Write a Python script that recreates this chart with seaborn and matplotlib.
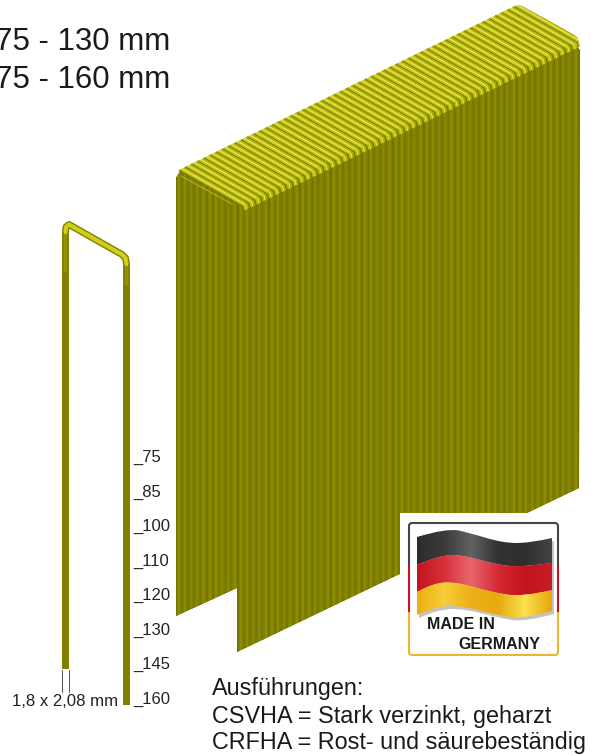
# Klammer-Magazin, Massblatt nachgebaut mit seaborn
import numpy as np
import pandas as pd
import matplotlib
matplotlib.use("Agg")
import matplotlib.pyplot as plt
from matplotlib.patches import FancyBboxPatch, PathPatch, Polygon, Rectangle
from matplotlib.path import Path
from matplotlib.transforms import Affine2D
import seaborn as sns

# Texte und Werte
range_labels = ["75 - 130 mm", "75 - 160 mm"]
leg_lengths = ["75", "85", "100", "110", "120", "130", "145", "160"]
wire_label = "1,8 x 2,08 mm"
variant_labels = ["Ausführungen:", "CSVHA = Stark verzinkt, geharzt", "CRFHA = Rost- und säurebeständig"]
badge_labels = ["MADE IN", "GERMANY"]

# Umrisse in Bildpunkten
block_outline = [(176, 178), (180, 171), (240, 205), (573, 43), (580, 50), (579, 488),
                 (237, 652), (237, 588), (176, 616)]
top_outline = [(176, 180), (177, 172), (182, 167), (514, 6), (519, 5), (524, 7), (572, 33),
               (578, 38), (580, 46), (580, 60), (240, 225), (176, 190)]
crown_start = (179, 170)
crown_end = (239, 204)
stack_step = (6.2, -3.03)
n_staples = 55

single_staple = [(65.5, 669), (65.5, 232), (66, 227), (69, 224.5), (122, 254.5), (125.5, 258), (126.5, 264), (126.5, 705)]
single_crown = [(65.5, 232), (66, 227), (69, 224.5), (122, 254.5), (125.5, 258), (126.5, 264)]
leg_glow_left = [(65, 232), (65, 272)]
leg_glow_right = [(126, 264), (126, 285)]

flag_top = [(417, 537), (447, 528), (470, 533), (503, 543), (530, 543), (552, 538)]
flag_black_red = [(417, 565), (440, 555), (463, 555), (497, 565), (523, 567), (552, 563)]
flag_red_gold = [(417, 592), (433, 583), (457, 582), (490, 592), (523, 597), (552, 590)]
flag_bottom = [(417, 615), (437, 606), (463, 606), (497, 615), (523, 619), (552, 611)]

top_shades = ["#7c7c00", "#bcbc00", "#e2e238", "#b0b000"]
leg_shades = ["#747400", "#828200", "#8d8d00", "#7d7d00"]
black_grad = ["#2c2c2c", "#3a3a3a", "#626262", "#333333", "#2e2e2e", "#444444"]
red_grad = ["#c2141c", "#d8303a", "#e9656c", "#d42a34", "#c2141c", "#c91c24"]
gold_grad = ["#efae10", "#f7cd38", "#eeb018", "#e8a810", "#fbe24e", "#e9a50c"]

sns.set_theme(style="white")
plt.rcParams["font.family"] = ["Liberation Sans", "DejaVu Sans"]

fig = plt.figure(figsize=(5.91, 7.55), dpi=100)
ax = fig.add_axes([0, 0, 1, 1])


def smooth_path(points, back=None):
    # quadratische Kurve durch die Mittelpunkte, optional mit Rueckweg
    pts = list(points)
    verts = [pts[0]]
    codes = [Path.MOVETO]
    for a, b in zip(pts[1:-1], pts[2:]):
        verts += [a, ((a[0] + b[0]) / 2, (a[1] + b[1]) / 2)]
        codes += [Path.CURVE3, Path.CURVE3]
    verts[-1] = pts[-1]
    if back is not None:
        rev = list(back)[::-1]
        verts.append(rev[0])
        codes.append(Path.LINETO)
        for a, b in zip(rev[1:-1], rev[2:]):
            verts += [a, ((a[0] + b[0]) / 2, (a[1] + b[1]) / 2)]
            codes += [Path.CURVE3, Path.CURVE3]
        verts[-1] = rev[-1]
        verts.append(pts[0])
        codes.append(Path.CLOSEPOLY)
    return Path(verts, codes)


# Beine des Magazins: Balken, auf den Umriss beschnitten
ax.add_patch(Polygon(block_outline, closed=True, facecolor="#808000", edgecolor="none", zorder=0.5))
n_bars = int((580 - 176) / stack_step[0] * len(leg_shades)) + 2
bar_x = 176 + np.arange(n_bars) * stack_step[0] / len(leg_shades)
legs = pd.DataFrame({"x": bar_x, "h": 755.0, "shade": [leg_shades[i % 4] for i in range(n_bars)]})
sns.barplot(data=legs, x="x", y="h", hue="shade", palette=dict(zip(leg_shades, leg_shades)),
            native_scale=True, dodge=False, width=1.1, saturation=1, errorbar=None,
            legend=False, linewidth=0, ax=ax)
block_clip = Polygon(block_outline, closed=True, transform=ax.transData, facecolor="none", edgecolor="none")
for bar in ax.patches:
    if isinstance(bar, Rectangle):
        bar.set_clip_path(block_clip)

# Ruecken des Magazins: je Klammer vier Farbstreifen
rows = []
for i in range(n_staples):
    for j, shade in enumerate(top_shades):
        ox = (i + j / 4) * stack_step[0]
        oy = (i + j / 4) * stack_step[1]
        x0, y0 = crown_start
        x1, y1 = crown_end
        path_pts = [(x0, y0), (x1, y1), (x1 + 3.5, y1 + 2.5), (x1 + 4.5, y1 + 7)]
        for k, (px, py) in enumerate(path_pts):
            rows.append({"x": px + ox, "y": py + oy, "unit": i * 4 + j, "order": k, "shade": shade})
top = pd.DataFrame(rows)
n_before = len(ax.lines)
sns.lineplot(data=top, x="x", y="y", hue="shade", units="unit", estimator=None, sort=False,
             palette=dict(zip(top_shades, top_shades)), linewidth=1.15, legend=False,
             solid_capstyle="butt", ax=ax)
top_clip = Polygon(top_outline, closed=True, transform=ax.transData, facecolor="none", edgecolor="none")
for line in ax.lines[n_before:]:
    line.set_clip_path(top_clip)

# Kante vorne links
crease = pd.DataFrame({"x": [181, 232], "y": [176, 204]})
sns.lineplot(data=crease, x="x", y="y", color="#b4b430", linewidth=0.7, estimator=None, sort=False, ax=ax)

# Einzelne Klammer
staple = pd.DataFrame(single_staple, columns=["x", "y"])
sns.lineplot(data=staple, x="x", y="y", color="#808000", linewidth=5, estimator=None, sort=False,
             solid_capstyle="butt", solid_joinstyle="round", ax=ax)
for glow in (leg_glow_left, leg_glow_right):
    g = pd.DataFrame(glow, columns=["x", "y"])
    sns.lineplot(data=g, x="x", y="y", color="#929200", linewidth=2.4, estimator=None, sort=False,
                 solid_capstyle="butt", ax=ax)
crown = pd.DataFrame(single_crown, columns=["x", "y"])
sns.lineplot(data=crown, x="x", y="y", color="#d0d018", linewidth=3, estimator=None, sort=False,
             solid_capstyle="round", solid_joinstyle="round", ax=ax)
for x_dim in (62, 68.5):
    ax.plot([x_dim, x_dim], [670, 692], color="#333333", linewidth=0.6)

# Weisses Feld und Siegel
ax.add_patch(Rectangle((400, 513), 191, 242, facecolor="white", edgecolor="none", zorder=5))

for color, low, high in [("#444444", 515, 566), ("#c8141e", 566, 612), ("#e8b830", 612, 660)]:
    frame = FancyBboxPatch((409, 523), 149, 132, boxstyle="round,pad=0,rounding_size=3",
                           facecolor="none", edgecolor=color, linewidth=1.5, zorder=6)
    ax.add_patch(frame)
    frame.set_clip_path(Rectangle((400, low), 170, high - low, transform=ax.transData))

shadow = PathPatch(smooth_path(flag_top, flag_bottom), facecolor="#555555", edgecolor="none",
                   alpha=0.35, zorder=6, transform=Affine2D().translate(2, 3) + ax.transData)
ax.add_patch(shadow)

for upper, lower, grad in [(flag_top, flag_black_red, black_grad),
                           (flag_black_red, flag_red_gold, red_grad),
                           (flag_red_gold, flag_bottom, gold_grad)]:
    cmap = sns.blend_palette(grad, as_cmap=True)
    im = ax.imshow(np.linspace(0, 1, 256).reshape(1, -1), cmap=cmap, aspect="auto",
                   extent=(417, 552, 625, 525), interpolation="bilinear", zorder=7)
    band = PathPatch(smooth_path(upper, lower), facecolor="none", edgecolor="none", zorder=7)
    ax.add_patch(band)
    im.set_clip_path(band)

ax.text(427, 629, badge_labels[0], fontsize=11.5, fontweight="bold", color="#1a1a1a", zorder=8)
ax.text(458, 649, badge_labels[1], fontsize=11.5, fontweight="bold", color="#1a1a1a", zorder=8)

# Beschriftung
for label, y in zip(range_labels, [50, 88]):
    ax.text(170, y, label, fontsize=22.5, ha="right", color="#1a1a1a")

for i, label in enumerate(leg_lengths):
    ax.text(133, 462 + i * 34.5, "_" + label, fontsize=12, color="#222222")

ax.text(118.5, 706, wire_label, fontsize=12.1, ha="right", color="#222222")

for label, y in zip(variant_labels, [695, 723, 749]):
    ax.text(212, y, label, fontsize=16.8, color="#1a1a1a", zorder=8)

ax.set_xlim(0, 591)
ax.set_ylim(755, 0)
ax.set_axis_off()
fig.savefig("out.png", dpi=100)
